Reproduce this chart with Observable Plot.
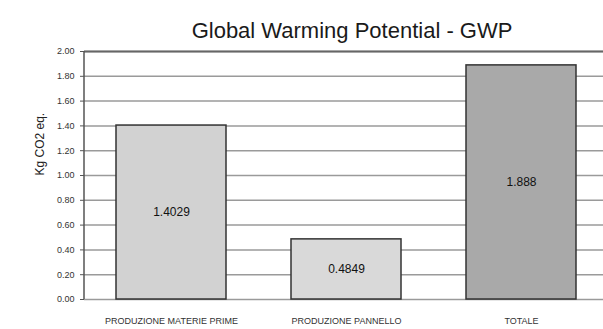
<!DOCTYPE html>
<html><head><meta charset="utf-8">
<script src="https://cdn.jsdelivr.net/npm/d3@7"></script>
<script src="https://cdn.jsdelivr.net/npm/@observablehq/plot@0.6"></script>
<style>
body{margin:0;background:#fff;}
#chart{width:603px;height:329px;overflow:hidden;}
</style>
</head><body><div id="chart"></div>
<script>
const categories = ["PRODUZIONE MATERIE PRIME", "PRODUZIONE PANNELLO", "TOTALE"];
const values = [1.4029, 0.4849, 1.888];
const valueLabels = ["1.4029", "0.4849", "1.888"];
const barColors = ["#d2d2d2", "#d9d9d9", "#a9a9a9"];
const yTicks = [0, 0.2, 0.4, 0.6, 0.8, 1.0, 1.2, 1.4, 1.6, 1.8, 2.0];
const title = "Global Warming Potential - GWP";
const yLabel = "Kg CO2 eq.";

const data = categories.map((c, i) => ({cat: c, v: values[i], lab: valueLabels[i], col: barColors[i]}));

const chart = Plot.plot({
  width: 603, height: 329,
  marginTop: 51, marginBottom: 30, marginLeft: 84, marginRight: 0,
  style: {fontFamily: "Liberation Sans, Arial, sans-serif", background: "#fff", overflow: "hidden"},
  x: {domain: categories, range: [84, 609], paddingInner: 0.37, paddingOuter: 0.185, label: null},
  y: {domain: [0, 2], label: null},
  marks: [
    Plot.ruleY(yTicks, {stroke: "#9a9a9a", strokeWidth: 1.5}),
    Plot.barY(data, {x: "cat", y: "v", fill: "col", stroke: "#333", strokeWidth: 1.5}),
    Plot.text(data, {x: "cat", y: d => d.v / 2, text: "lab", fontSize: 12, fill: "#111"}),
    Plot.ruleY([2], {stroke: "#666", strokeWidth: 2}),
    Plot.axisY(yTicks, {tickFormat: d => d.toFixed(2), fontSize: 9, tickSize: 4, tickPadding: 6, stroke: "#555", fill: "#333"}),
    Plot.axisX({tickSize: 0, tickPadding: 18, fontSize: 9, fill: "#333"}),
    Plot.text([yLabel], {frameAnchor: "left", dx: -44, rotate: -90, fontSize: 12, fill: "#222"}),
    Plot.text([title], {frameAnchor: "top", dy: -29, dx: 8, fontSize: 22, fill: "#1a1a1a"})
  ]
});
// y-axis line drawn along the y scale's range at the plot's left edge
const ys = chart.scale("y");
const axisLine = document.createElementNS("http://www.w3.org/2000/svg", "line");
axisLine.setAttribute("x1", 84); axisLine.setAttribute("x2", 84);
axisLine.setAttribute("y1", ys.apply(0)); axisLine.setAttribute("y2", ys.apply(2));
axisLine.setAttribute("stroke", "#555"); axisLine.setAttribute("stroke-width", 1.5);
chart.appendChild(axisLine);
document.getElementById("chart").appendChild(chart);
</script>
</body></html>
